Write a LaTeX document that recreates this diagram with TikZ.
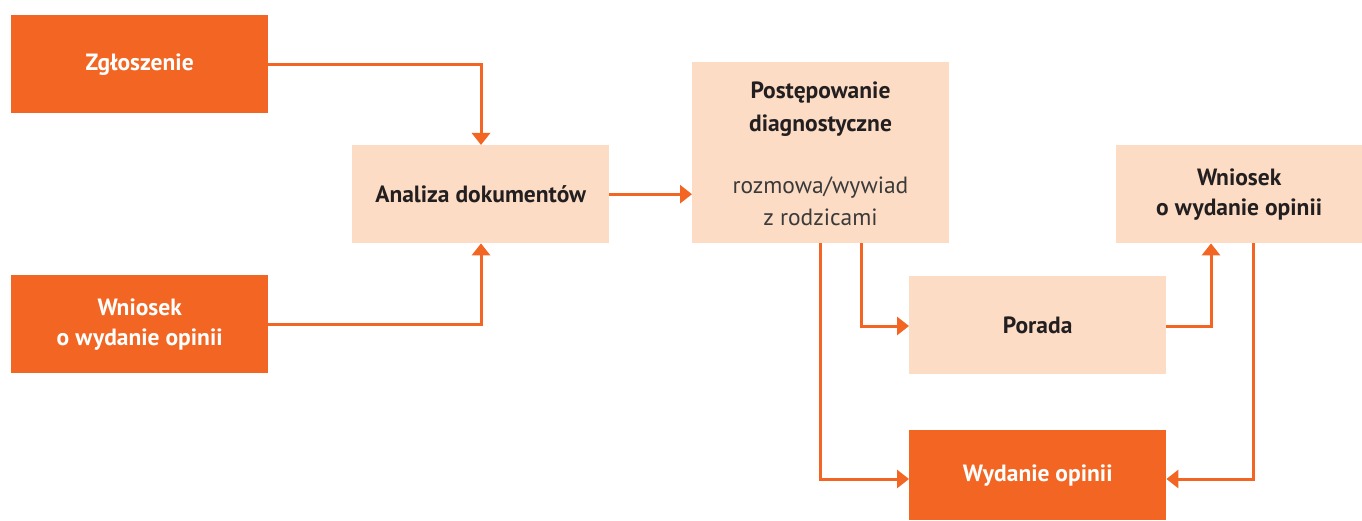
\documentclass[tikz,border=0pt]{standalone}
\usepackage{fontspec}
\setmainfont{PT Sans}
\usetikzlibrary{arrows.meta}
\definecolor{dark}{HTML}{F26522}
\definecolor{peach}{HTML}{FCDCC4}
\definecolor{ink}{HTML}{231F20}
\definecolor{grayink}{HTML}{3A3A3A}
\begin{document}
\begin{tikzpicture}[x=1pt,y=-1pt,
  boxd/.style={fill=dark,text=white,inner sep=0pt,anchor=north west,align=center,font=\fontsize{23.5}{30}\selectfont\bfseries},
  boxl/.style={fill=peach,text=ink,inner sep=0pt,anchor=north west,align=center,font=\fontsize{23.5}{30}\selectfont\bfseries},
  conn/.style={draw=dark,line width=3pt,-{Triangle[length=12pt,width=18pt]}}]
\useasboundingbox (0,0) rectangle (1362,521);
\node[boxd,minimum width=257pt,minimum height=98pt] (zg) at (11,15) {Zgłoszenie};
\node[boxd,minimum width=257pt,minimum height=98pt] (wl) at (11,275) {Wniosek\\o wydanie opinii};
\node[boxl,minimum width=257pt,minimum height=98pt] (an) at (352,145) {Analiza dokumentów};
\node[boxl,minimum width=257pt,minimum height=181pt] (pd) at (692,62) {};
\node[font=\fontsize{23.5}{33}\selectfont\bfseries,text=ink,align=center] (pdt) at (820.5,109) {Postępowanie\\diagnostyczne};
\node[font=\fontsize{23.5}{32}\selectfont,text=grayink,align=center] (pds) at (820.5,201) {rozmowa/wywiad\\z rodzicami};
\node[boxl,minimum width=246pt,minimum height=98pt] (wr) at (1116,145) {Wniosek\\o wydanie opinii};
\node[boxl,minimum width=257pt,minimum height=98pt] (po) at (909,276) {Porada};
\node[boxd,minimum width=257pt,minimum height=90pt] (wy) at (909,430) {Wydanie opinii};
\coordinate (c1) at (481,65);
\coordinate (c2) at (481,324);
\coordinate (c3) at (861,326);
\coordinate (c4) at (820,479);
\coordinate (c5) at (1211,326);
\coordinate (c6) at (1253,479);
\draw[conn] (zg.east |- c1) -- (c1) -- (an.north -| c1);
\draw[conn] (wl.east |- c2) -- (c2) -- (an.south -| c2);
\draw[conn] (an.east) -- (pd.west |- an.east);
\draw[conn] (pd.south -| c3) -- (c3) -- (po.west |- c3);
\draw[conn] (pd.south -| c4) -- (c4) -- (wy.west |- c4);
\draw[conn] (po.east |- c5) -- (c5) -- (wr.south -| c5);
\draw[conn] (wr.south -| c6) -- (c6) -- (wy.east |- c6);
\end{tikzpicture}
\end{document}
